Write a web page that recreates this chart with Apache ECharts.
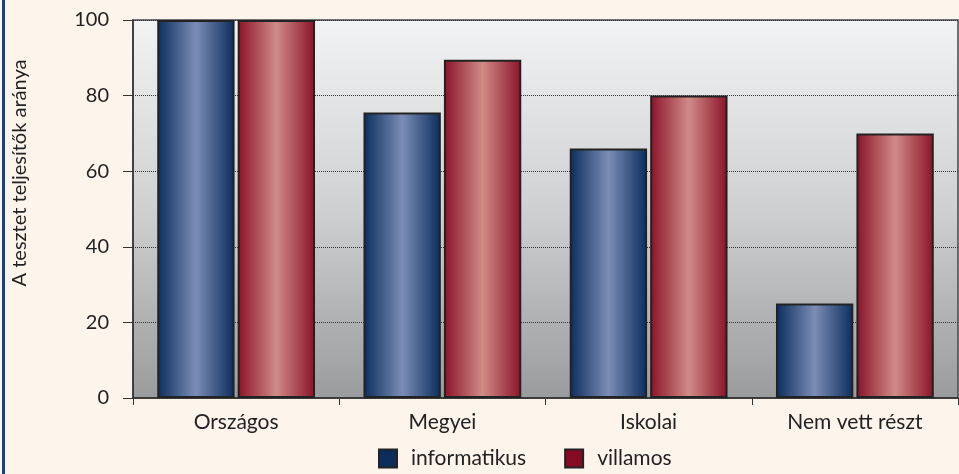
<!DOCTYPE html>
<html>
<head>
<meta charset="utf-8">
<script src="https://cdn.jsdelivr.net/npm/echarts@6/dist/echarts.min.js"></script>
<style>
  html, body { margin: 0; padding: 0; background: #fdf4ec; }
  #chart { width: 959px; height: 474px; }
</style>
</head>
<body>
<div id="chart"></div>
<script>
// adatok
var categories = ['Országos', 'Megyei', 'Iskolai', 'Nem vett részt'];
var informatikus = [100, 75.5, 66, 25];
var villamos = [100, 89.5, 80, 70];
var yTicks = [0, 20, 40, 60, 80, 100];
var yName = 'A tesztet teljesítők aránya';

var myChart = echarts.init(document.getElementById('chart'));

function barGrad(edge, mid) {
    return new echarts.graphic.LinearGradient(0, 0, 1, 0, [
        {offset: 0, color: edge},
        {offset: 0.5, color: mid},
        {offset: 1, color: edge}
    ]);
}

var font = 'Lato, "Open Sans", sans-serif';

var option = {
    backgroundColor: '#fdf4ec',
    textStyle: {fontFamily: font},
    graphic: [
        {type: 'rect', left: 2, top: 0, shape: {width: 3, height: 474}, style: {fill: '#1c3f75'}},
        //tengely neve, nem kozepen van
        {type: 'text', x: 20, y: 173, rotation: Math.PI / 2,
            style: {text: yName, font: '20px ' + font, fill: '#222', textAlign: 'center', textVerticalAlign: 'middle'}}
    ],
    grid: {
        left: 133, right: 1, top: 20, bottom: 76,
        show: true,
        borderColor: '#444', borderWidth: 1.5,
        backgroundColor: new echarts.graphic.LinearGradient(0, 0, 0, 1, [
            {offset: 0, color: '#f2f3f4'},
            {offset: 0.5, color: '#cfd0d2'},
            {offset: 1, color: '#9a9b9d'}
        ])
    },
    legend: {
        bottom: 0, left: 373,
        icon: 'rect',
        itemWidth: 18, itemHeight: 18, itemGap: 38,
        textStyle: {fontSize: 21, color: '#222', padding: [0, 0, 0, 9]},
        data: [
            {name: 'informatikus', itemStyle: {color: '#0b2d5c', borderColor: '#222', borderWidth: 2}},
            {name: 'villamos', itemStyle: {color: '#870a24', borderColor: '#222', borderWidth: 2}}
        ]
    },
    xAxis: {
        type: 'category',
        data: categories,
        axisLine: {lineStyle: {color: '#333', width: 1.5}},
        axisTick: {show: true, length: 7, lineStyle: {color: '#333'}},
        axisLabel: {fontSize: 21, color: '#222', margin: 14}
    },
    yAxis: {
        type: 'value',
        min: yTicks[0], max: yTicks[yTicks.length - 1], interval: 20,
        axisLine: {show: true, lineStyle: {color: '#333', width: 1.5}},
        axisTick: {show: true, length: 10, lineStyle: {color: '#333'}},
        axisLabel: {fontSize: 20, color: '#222', margin: 24},
        splitLine: {show: true, lineStyle: {type: 'dotted', color: '#333', width: 1}}
    },
    series: [
        {
            name: 'informatikus', type: 'bar', data: informatikus,
            barWidth: '37.5%', barGap: '4%',
            itemStyle: {color: barGrad('#0b2d5c', '#7b8db6'), borderColor: '#222', borderWidth: 2}
        },
        {
            name: 'villamos', type: 'bar', data: villamos,
            barWidth: '37.5%',
            itemStyle: {color: barGrad('#8a1228', '#d08b87'), borderColor: '#222', borderWidth: 2}
        }
    ]
};
myChart.setOption(option);
</script>
</body>
</html>
